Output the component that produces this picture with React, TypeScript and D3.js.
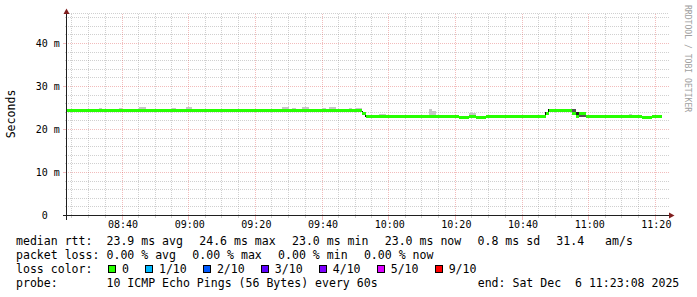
import React from "react";
import * as d3 from "d3";

const W = 697;
const H = 297;

const DAY = "2025-12-06";
const START = "08:23:08";
const END = "11:23:08";

const yTicks = [0, 10, 20, 30, 40];
const yTickLabels = [" 0", "10 m", "20 m", "30 m", "40 m"];

// median rtt (ms), step series
const medianTimes = ["08:23:08", "09:52:00", "09:53:00", "10:21:00", "10:24:00", "10:26:00", "10:29:00", "10:47:00", "10:48:00", "10:55:00", "10:56:00", "10:57:00", "10:59:00", "11:16:00", "11:19:00", "11:22:00"];
const medianValues = [24.5, 23.8, 23.1, 22.9, 23.1, 22.9, 23.1, 23.8, 24.5, 23.8, 23.1, 23.8, 23.1, 22.9, 23.1, 23.1];

// smoke (ping spread)
const smokeFrom = ["08:33:00", "08:39:00", "08:45:00", "08:55:00", "08:59:00", "09:28:00", "09:31:00", "09:34:00", "09:40:00", "09:42:00", "09:48:00", "09:50:00", "09:57:00", "10:12:00", "10:13:00", "10:24:00", "11:12:00", "09:51:56", "09:52:50", "10:46:50", "10:47:44", "10:55:00", "10:56:00", "10:57:00"];
const smokeTo = ["08:34:00", "08:40:00", "08:47:00", "08:56:00", "09:01:00", "09:30:00", "09:32:00", "09:36:00", "09:41:00", "09:44:00", "09:49:00", "09:52:00", "09:59:00", "10:13:00", "10:14:00", "10:26:00", "11:13:00", "09:52:14", "09:53:08", "10:47:08", "10:48:02", "10:56:00", "10:57:00", "10:59:00"];
const smokeLow = [24.5, 24.5, 24.5, 24.5, 24.5, 24.5, 24.5, 24.5, 24.5, 24.5, 24.5, 24.5, 23.1, 23.1, 23.1, 23.1, 23.1, 23.3, 22.9, 23.3, 24.0, 23.9, 23.4, 22.9];
const smokeHigh = [25.0, 24.95, 25.25, 25.0, 25.25, 25.2, 25.0, 25.2, 25.0, 25.2, 25.0, 25.0, 23.6, 24.8, 24.3, 23.75, 23.7, 24.3, 23.7, 24.1, 24.8, 24.8, 24.0, 23.8];
const smokeDensity = [0.05, 0.05, 0.05, 0.05, 0.05, 0.05, 0.05, 0.05, 0.05, 0.05, 0.05, 0.05, 0.05, 0.05, 0.05, 0.05, 0.05, 0.95, 0.95, 0.95, 0.95, 0.6, 0.85, 0.6];

// legend
const rttLabel = "median rtt:";
const rttValues = [23.9, 24.6, 23.0, 23.0, 0.8, 31.4];
const rttUnits = [" ms avg", " ms max", " ms min", " ms now", " ms sd", "   am/s"];
const lossLabel = "packet loss:";
const lossValues = [0, 0, 0, 0];
const lossUnits = [" % avg", " % max", " % min", " % now"];
const lossColorLabel = "loss color:";
const lossLevels = ["0", "1/10", "2/10", "3/10", "4/10", "5/10", "9/10"];
const lossColors = ["#26ff00", "#00b8ff", "#0059ff", "#5e00ff", "#7e00ff", "#dd00ff", "#ff0000"];
const probeLabel = "probe:";
const probeText = "10 ICMP Echo Pings (56 Bytes) every 60s";
const yAxisTitle = "Seconds";
const watermark = "RRDTOOL / TOBI OETIKER";

const parseT = d3.timeParse("%Y-%m-%d %H:%M:%S");
const T = (s: string) => parseT(`${DAY} ${s}`) as Date;

const MONO = "'DejaVu Sans Mono', monospace";

export default function App() {
  const x = d3.scaleTime().domain([T(START), T(END)]).range([66, 666]);
  const y = d3.scaleLinear().domain([0, 46.5]).range([215.5, 15.5]);
  const X0 = 66.5;
  const Y0 = 215.5;
  const XR = 667;
  const YT = 13.5;

  const majorTimes = x.ticks(d3.timeMinute.every(20) as any);
  const minorTimes = x
    .ticks(d3.timeMinute.every(5) as any)
    .filter((t: Date) => t.getMinutes() % 20 !== 0);
  const minorY = d3.range(2, 47, 2).filter((v) => v % 10 !== 0);
  const majorY = yTicks.filter((v) => v !== 0);

  const medPts = medianTimes.map((t, i) => ({ t: T(t), v: medianValues[i] }));
  const hw = 1.5;
  const band = d3
    .area<{ t: Date; v: number }>()
    .curve(d3.curveStepAfter)
    .x((d) => x(d.t))
    .y0((d) => y(d.v) + hw)
    .y1((d) => y(d.v) - hw)(medPts) as string;

  const shade = d3.scaleLinear<string>().domain([0, 1]).range(["#d0d0d0", "#000000"]);

  const minorCol = "rgba(143,143,143,0.42)";
  const majorCol = "rgba(222,80,80,0.38)";

  const LF = 11.56;
  const CW = LF * 0.60205;
  const GAP = 16.2;
  const COL2 = 106.5;
  const flow = (texts: string[], x0: number) => {
    const xs: number[] = [];
    let cx = x0;
    texts.forEach((t) => {
      xs.push(cx);
      cx += t.length * CW + GAP;
    });
    return xs;
  };
  const rttTexts = rttValues.map((v, i) => v.toFixed(1) + rttUnits[i]);
  const lossTexts = lossValues.map((v, i) => v.toFixed(2) + lossUnits[i]);
  const rttX = flow(rttTexts, COL2);
  const lossX = flow(lossTexts, COL2);
  const boxX: number[] = [];
  {
    let bx = 108;
    lossLevels.forEach((l) => {
      boxX.push(bx);
      bx += 30.1 + l.length * CW;
    });
  }
  const endText = "end: " + d3.timeFormat("%a %b %e %H:%M:%S %Y")(T(END));

  const textStyle: React.CSSProperties = { whiteSpace: "pre" };

  return (
    <svg
      width={W}
      height={H}
      viewBox={`0 0 ${W} ${H}`}
      style={{ position: "absolute", left: 0, top: 0, background: "#fff" }}
    >
      <rect x={0} y={0} width={W} height={H} fill="#fff" />

      {/* grid */}
      <g shapeRendering="crispEdges" strokeWidth={1}>
        <line x1={X0} x2={XR + 2} y1={YT} y2={YT} stroke={minorCol} strokeDasharray="1,1" />
        {minorY.map((v) => {
          const yy = Math.floor(y(v)) + 0.5;
          return (
            <g key={"my" + v}>
              <line x1={X0 + 1} x2={XR + 2} y1={yy} y2={yy} stroke={minorCol} strokeDasharray="1,1" />
              <line x1={X0 - 2} x2={X0} y1={yy} y2={yy} stroke={minorCol} />
            </g>
          );
        })}
        {minorTimes.map((t: Date) => {
          const xx = Math.round(x(t)) - 0.5;
          return (
            <g key={"mx" + t.getTime()}>
              <line x1={xx} x2={xx} y1={YT} y2={Y0 - 1} stroke={minorCol} strokeDasharray="1,1" />
              <line x1={xx} x2={xx} y1={Y0} y2={Y0 + 2} stroke={minorCol} />
            </g>
          );
        })}
        {majorY.map((v) => {
          const yy = Math.floor(y(v)) + 0.5;
          return (
            <g key={"My" + v}>
              <line x1={X0 + 1} x2={XR + 2} y1={yy} y2={yy} stroke={majorCol} strokeDasharray="1,1" />
              <line x1={X0 - 4} x2={X0} y1={yy} y2={yy} stroke={majorCol} />
            </g>
          );
        })}
        {majorTimes.map((t: Date) => {
          const xx = Math.floor(x(t)) + 0.5;
          return (
            <g key={"Mx" + t.getTime()}>
              <line x1={xx} x2={xx} y1={YT} y2={Y0 - 1} stroke={majorCol} strokeDasharray="1,1" />
              <line x1={xx} x2={xx} y1={Y0} y2={Y0 + 4} stroke={majorCol} />
            </g>
          );
        })}
      </g>

      {/* smoke */}
      <g shapeRendering="crispEdges">
        {smokeFrom.map((f, i) => {
          const x1 = x(T(f));
          const x2 = x(T(smokeTo[i]));
          const yTop = y(smokeHigh[i]);
          const yBot = y(smokeLow[i]);
          return (
            <rect
              key={"s" + i}
              x={x1}
              width={x2 - x1}
              y={yTop}
              height={yBot - yTop}
              fill={shade(smokeDensity[i])}
            />
          );
        })}
      </g>

      {/* median */}
      <path d={band} fill={lossColors[0]} shapeRendering="crispEdges" />

      {/* axes */}
      <g shapeRendering="crispEdges">
        <line x1={X0} x2={X0} y1={YT - 1} y2={Y0 + 4} stroke="#1f1f1f" />
        <line x1={X0 - 4} x2={XR + 3} y1={Y0} y2={Y0} stroke="#1f1f1f" />
      </g>
      <path d={`M${X0 - 3},${YT + 0.5} L${X0 + 3},${YT + 0.5} L${X0},${YT - 5} Z`} fill="#801f1f" />
      <path d={`M${XR + 2},${Y0 - 3} L${XR + 2},${Y0 + 3} L${XR + 7.5},${Y0} Z`} fill="#801f1f" />

      {/* tick labels */}
      <g fontFamily={MONO} fontSize={10} fill="#000">
        {yTicks.map((v, i) => (
          <text key={"yl" + v} x={35.7} y={y(v) + 3.8} xmlSpace="preserve" style={textStyle}>
            {yTickLabels[i]}
          </text>
        ))}
        {majorTimes.map((t: Date) => (
          <text key={"xl" + t.getTime()} x={x(t) + 0.8} y={227.5} textAnchor="middle">
            {d3.timeFormat("%H:%M")(t)}
          </text>
        ))}
      </g>

      {/* y title */}
      <text
        transform={`translate(14.5, 114) rotate(-90)`}
        textAnchor="middle"
        fontFamily={MONO}
        fontSize={LF}
        fill="#000"
      >
        {yAxisTitle}
      </text>

      {/* watermark */}
      <text
        transform={`translate(684.6, 5) rotate(90)`}
        fontFamily={MONO}
        fontSize={8.1}
        fill="#a0a0a0"
      >
        {watermark}
      </text>

      {/* legend */}
      <g fontFamily={MONO} fontSize={LF} fill="#000">
        <text x={16} y={245} xmlSpace="preserve" style={textStyle}>{rttLabel}</text>
        {rttTexts.map((t, i) => (
          <text key={"r" + i} x={rttX[i]} y={245} xmlSpace="preserve" style={textStyle}>{t}</text>
        ))}
        <text x={16} y={259} xmlSpace="preserve" style={textStyle}>{lossLabel}</text>
        {lossTexts.map((t, i) => (
          <text key={"l" + i} x={lossX[i]} y={259} xmlSpace="preserve" style={textStyle}>{t}</text>
        ))}
        <text x={16} y={273} xmlSpace="preserve" style={textStyle}>{lossColorLabel}</text>
        {lossLevels.map((l, i) => (
          <g key={"b" + i}>
            <rect
              x={boxX[i] + 0.5}
              y={265.5}
              width={7}
              height={7}
              fill={lossColors[i]}
              stroke="#000"
              strokeWidth={1}
              shapeRendering="crispEdges"
            />
            <text x={boxX[i] + 13.9} y={273} xmlSpace="preserve" style={textStyle}>{l}</text>
          </g>
        ))}
        <text x={16} y={287} xmlSpace="preserve" style={textStyle}>{probeLabel}</text>
        <text x={COL2} y={287} xmlSpace="preserve" style={textStyle}>{probeText}</text>
        <text x={477.7} y={287} xmlSpace="preserve" style={textStyle}>{endText}</text>
      </g>
    </svg>
  );
}
